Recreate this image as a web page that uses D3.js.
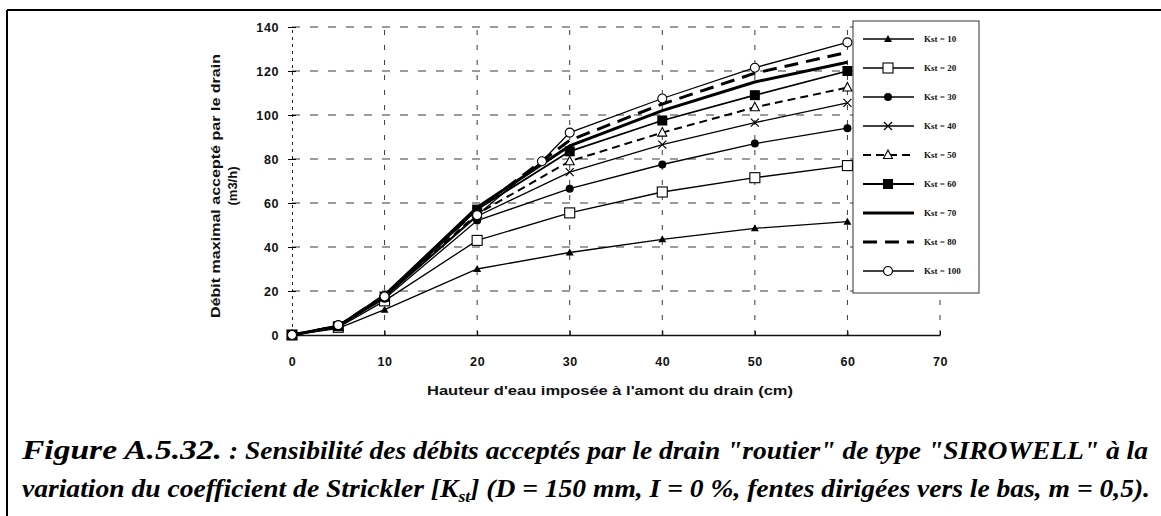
<!DOCTYPE html>
<html><head><meta charset="utf-8">
<script src="https://cdn.jsdelivr.net/npm/d3@7"></script>
<style>body{margin:0;background:#fff}svg{display:block}
.cap{font-family:'Liberation Serif','Times New Roman',serif;font-weight:bold;font-style:italic;fill:#000}
.ax{font-family:'Liberation Sans',Arial,sans-serif;font-weight:bold;fill:#111}
.lg{font-family:'Liberation Serif','Times New Roman',serif;font-weight:bold;fill:#111}
</style>
</head><body>
<svg id="c" width="1161" height="516"></svg>
<script>
// ---- data ----
const hauteurs = [0, 5, 10, 20, 30, 40, 50, 60];
const kst10  = [0, 3, 11.5, 30, 37.5, 43.5, 48.5, 51.5];
const kst20  = [0, 3.5, 15.5, 43, 55.5, 65, 71.5, 77];
const kst30  = [0, 4, 16.5, 52, 66.5, 77.5, 87, 94];
const kst40  = [0, 4, 17, 54, 74, 86.5, 96.5, 105.5];
const kst50  = [0, 4, 17.5, 55, 79, 92, 103.5, 112.5];
const kst60  = [0, 4, 17.5, 57, 83.5, 97.5, 109, 120];
const kst70  = [0, 4, 18, 58, 86, 102, 115, 124];
const kst80  = [0, 4, 18, 57, 88.5, 105, 119, 128.5];
const hauteurs100 = [0, 5, 10, 20, 27, 30, 40, 50, 60];
const kst100 = [0, 4.5, 17.5, 54.5, 79, 92, 107.5, 121.5, 133];
const legendLabels = ["Kst = 10","Kst = 20","Kst = 30","Kst = 40","Kst = 50","Kst = 60","Kst = 70","Kst = 80","Kst = 100"];
const xTicks = [0, 10, 20, 30, 40, 50, 60, 70];
const yTicks = [0, 20, 40, 60, 80, 100, 120, 140];

const series = [
  {label: legendLabels[0], xs: hauteurs, ys: kst10,  w: 1.3, dash: null,  marker: "triFill"},
  {label: legendLabels[1], xs: hauteurs, ys: kst20,  w: 1.3, dash: null,  marker: "squareOpen"},
  {label: legendLabels[2], xs: hauteurs, ys: kst30,  w: 1.3, dash: null,  marker: "circleFillSmall"},
  {label: legendLabels[3], xs: hauteurs, ys: kst40,  w: 1.3, dash: null,  marker: "cross"},
  {label: legendLabels[4], xs: hauteurs, ys: kst50,  w: 2,   dash: "8,5", marker: "triOpen"},
  {label: legendLabels[5], xs: hauteurs, ys: kst60,  w: 1.8, dash: null,  marker: "squareFill"},
  {label: legendLabels[6], xs: hauteurs, ys: kst70,  w: 3,   dash: null,  marker: null},
  {label: legendLabels[7], xs: hauteurs, ys: kst80,  w: 3,   dash: "14,8", marker: null},
  {label: legendLabels[8], xs: hauteurs100, ys: kst100, w: 1.3, dash: null, marker: "circleOpen"}
];

const svg = d3.select("#c");
const x = d3.scaleLinear().domain([0, 70]).range([292, 940]);
const y = d3.scaleLinear().domain([0, 140]).range([335, 27]);

// frame
svg.append("line").attr("x1",7).attr("x2",1161).attr("y1",10).attr("y2",10).attr("stroke","#000").attr("stroke-width",2);
svg.append("line").attr("x1",7).attr("x2",7).attr("y1",10).attr("y2",516).attr("stroke","#000").attr("stroke-width",2);

// gridlines
const g = svg.append("g");
g.selectAll(".hg").data(yTicks.filter(d=>d>0)).enter().append("line")
  .attr("x1", x(0)).attr("x2", x(70)).attr("y1", d=>y(d)).attr("y2", d=>y(d))
  .attr("stroke","#222").attr("stroke-width",0.9).attr("stroke-dasharray","8,10");
g.selectAll(".vg").data(xTicks.filter(d=>d>0)).enter().append("line")
  .attr("x1", d=>x(d)).attr("x2", d=>x(d)).attr("y1", y(0)).attr("y2", y(140))
  .attr("stroke","#222").attr("stroke-width",0.9).attr("stroke-dasharray","5,10");

// y axis (dashed line with ticks)
const yAxis = d3.axisLeft(y).tickValues(yTicks).tickSize(5).tickPadding(8).tickFormat(d3.format("d"));
const ya = svg.append("g").attr("transform",`translate(${x(0)},0)`).call(yAxis);
ya.select(".domain").attr("stroke","#222").attr("stroke-dasharray","3,4").attr("stroke-width",1);
ya.selectAll(".tick line").attr("x2",4).attr("x1",-4);
ya.selectAll("text").attr("class","ax").attr("font-size",12.5).attr("letter-spacing",0.6);

// x axis
const xAxis = d3.axisBottom(x).tickValues(xTicks).tickSizeInner(-4).tickSizeOuter(0).tickPadding(22);
const xa = svg.append("g").attr("transform",`translate(0,${y(0)})`).call(xAxis);
xa.select(".domain").attr("stroke","#111").attr("stroke-width",1.3);
xa.selectAll("text").attr("class","ax").attr("font-size",12.5).attr("letter-spacing",0.6);
svg.selectAll(".tick text").attr("font-family",null);
ya.attr("font-family",null); xa.attr("font-family",null);

// axis titles
svg.append("text").attr("class","ax").attr("transform","translate(220,186) rotate(-90)").attr("text-anchor","middle")
  .attr("font-size",13.5).attr("textLength",264).attr("lengthAdjust","spacingAndGlyphs")
  .text("Débit maximal accepté par le drain");
svg.append("text").attr("class","ax").attr("transform","translate(237,186) rotate(-90)").attr("text-anchor","middle")
  .attr("font-size",13).text("(m3/h)");
svg.append("text").attr("class","ax").attr("x",610).attr("y",395).attr("text-anchor","middle")
  .attr("font-size",12).attr("textLength",366).attr("lengthAdjust","spacingAndGlyphs")
  .text("Hauteur d'eau imposée à l'amont du drain (cm)");

// markers
function drawMarker(sel, type, cx, cy) {
  const s = sel.append("g").attr("transform",`translate(${cx},${cy})`);
  switch(type) {
    case "triFill": s.append("path").attr("d","M0,-4L4,3L-4,3Z").attr("fill","#000"); break;
    case "triOpen": s.append("path").attr("d","M0,-5L4.5,3.5L-4.5,3.5Z").attr("fill","#fff").attr("stroke","#000").attr("stroke-width",1.1); break;
    case "squareOpen": s.append("rect").attr("x",-5).attr("y",-5).attr("width",10).attr("height",10).attr("fill","#fff").attr("stroke","#000").attr("stroke-width",1.1); break;
    case "squareFill": s.append("rect").attr("x",-5).attr("y",-5).attr("width",10).attr("height",10).attr("fill","#000"); break;
    case "circleFillSmall": s.append("circle").attr("r",4).attr("fill","#000"); break;
    case "circleOpen": s.append("circle").attr("r",4.5).attr("fill","#fff").attr("stroke","#000").attr("stroke-width",1.1); break;
    case "cross": s.append("path").attr("d","M-4,-4L4,4M-4,4L4,-4").attr("stroke","#000").attr("stroke-width",1.2); break;
  }
}

const line = d3.line().x(d=>x(d[0])).y(d=>y(d[1]));
const plot = svg.append("g");
series.forEach(s => {
  const pts = s.xs.map((v,i)=>[v, s.ys[i]]);
  plot.append("path").attr("d", line(pts)).attr("fill","none").attr("stroke","#000")
    .attr("stroke-width", s.w).attr("stroke-dasharray", s.dash);
});
series.forEach(s => {
  if (!s.marker) return;
  s.xs.forEach((v,i) => drawMarker(plot, s.marker, x(v), y(s.ys[i])));
});

// legend
const lg = svg.append("g");
lg.append("rect").attr("x",853).attr("y",21).attr("width",126).attr("height",272)
  .attr("fill","#fff").attr("stroke","#333").attr("stroke-width",1);
series.forEach((s,i) => {
  const ly = 39 + i*29;
  lg.append("line").attr("x1",863).attr("x2",914).attr("y1",ly).attr("y2",ly)
    .attr("stroke","#000").attr("stroke-width",s.w).attr("stroke-dasharray",s.dash);
  if (s.marker) drawMarker(lg, s.marker, 888, ly);
  lg.append("text").attr("class","lg").attr("x",924).attr("y",ly+3).attr("font-size",9).text(s.label);
});

// caption
svg.append("text").attr("class","cap").attr("x",22).attr("y",459).attr("font-size",28)
  .attr("textLength",200).attr("lengthAdjust","spacingAndGlyphs").text("Figure A.5.32.");
svg.append("text").attr("class","cap").attr("x",229).attr("y",459).attr("font-size",25)
  .attr("textLength",919).attr("lengthAdjust","spacingAndGlyphs")
  .text(": Sensibilité des débits acceptés par le drain \"routier\" de type \"SIROWELL\" à la");

const cap2 = svg.append("text").attr("class","cap").attr("x",22).attr("y",497).attr("font-size",25)
  .attr("textLength",1128).attr("lengthAdjust","spacingAndGlyphs");
cap2.append("tspan").text("variation du coefficient de Strickler [K");
cap2.append("tspan").attr("font-size",16).attr("dy",5).text("st");
cap2.append("tspan").attr("dy",-5).text("] (D = 150 mm, I = 0 %, fentes dirigées vers le bas, m = 0,5).");
</script>
</body></html>
